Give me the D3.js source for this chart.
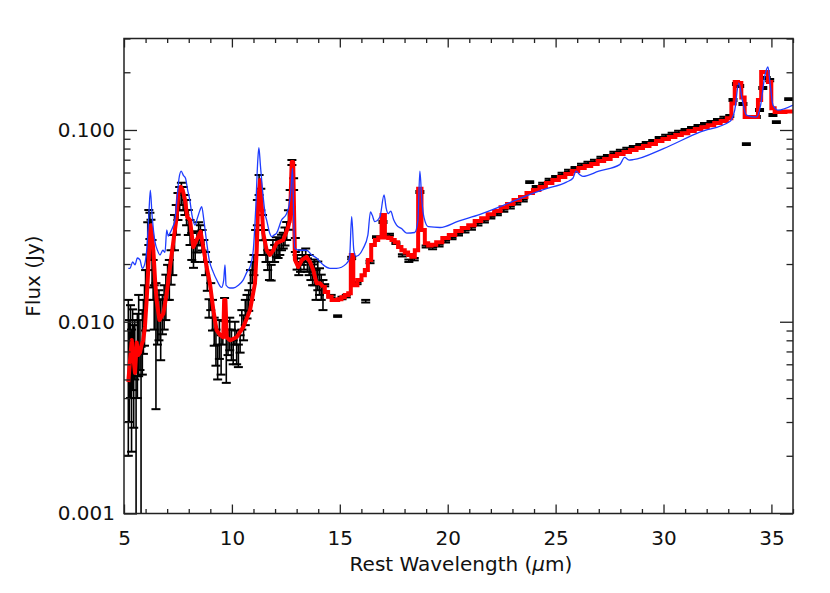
<!DOCTYPE html>
<html><head><meta charset="utf-8">
<script src="https://cdn.jsdelivr.net/npm/d3@7/dist/d3.min.js"></script>
<style>body{margin:0;background:#fff} text{font-family:"DejaVu Sans",sans-serif;fill:#111}</style>
</head><body><svg id="c" width="830" height="593"></svg>
<script>
// ---- tick labels ----
const xTicks = [5, 10, 15, 20, 25, 30, 35];
const yTicks = [0.001, 0.01, 0.1];
const yTickLabels = ["0.001", "0.010", "0.100"];

// ---- blue model (thin line) ----
const modelWl = [5.2,5.28,5.4,5.51,5.62,5.74,5.85,5.95,6.05,6.15,6.22,6.3,6.44,6.55,6.67,6.8,6.9,6.98,7.05,7.13,7.25,7.36,7.45,7.55,7.65,7.75,7.85,7.95,8.05,8.15,8.29,8.4,8.52,8.6,8.7,8.83,8.95,9.13,9.3,9.52,9.62,9.68,9.73,9.9,10.06,10.3,10.52,10.7,10.84,10.99,11.1,11.2,11.25,11.32,11.45,11.55,11.61,11.75,11.84,11.95,12.07,12.3,12.53,12.65,12.75,12.81,12.86,12.91,13.15,13.46,13.7,13.92,14.23,14.54,14.85,15.31,15.45,15.55,15.65,15.75,16.08,16.3,16.42,16.5,16.62,16.86,17.05,17.15,17.24,17.36,17.5,17.63,17.86,18.1,18.47,18.62,18.71,18.8,18.9,19.1,19.64,20.5,21.5,22.4,23.5,24.5,25.5,25.8,25.95,26.1,26.26,27.0,27.97,28.2,28.4,28.59,30.0,31.68,33.07,33.3,33.49,33.65,33.84,34.3,34.5,34.7,34.84,34.95,35.07,35.3,36.0];
const modelFlux = [0.0190,0.0190,0.0205,0.0198,0.0215,0.0210,0.0190,0.0198,0.0236,0.0360,0.0486,0.0360,0.0260,0.0236,0.0223,0.0236,0.0230,0.0301,0.0280,0.0290,0.0310,0.0339,0.0431,0.0560,0.0610,0.0580,0.0560,0.0486,0.0431,0.0360,0.0319,0.0347,0.0382,0.0398,0.0339,0.0260,0.0210,0.0182,0.0165,0.0151,0.0165,0.0198,0.0155,0.0150,0.0150,0.0155,0.0165,0.0182,0.0193,0.0236,0.0382,0.0697,0.0810,0.0656,0.0447,0.0360,0.0339,0.0290,0.0278,0.0283,0.0290,0.0339,0.0366,0.0406,0.0516,0.0633,0.0360,0.0242,0.0236,0.0236,0.0223,0.0215,0.0198,0.0190,0.0190,0.0201,0.0215,0.0353,0.0236,0.0219,0.0241,0.0283,0.0374,0.0360,0.0333,0.0353,0.0458,0.0390,0.0366,0.0377,0.0339,0.0319,0.0306,0.0290,0.0292,0.0339,0.0610,0.0431,0.0350,0.0313,0.0310,0.0335,0.0363,0.0397,0.0447,0.0491,0.0535,0.0560,0.0610,0.0587,0.0573,0.0610,0.0660,0.0719,0.0697,0.0700,0.0800,0.0975,0.1107,0.1270,0.1760,0.1430,0.1196,0.1168,0.1349,0.1930,0.2130,0.1700,0.1350,0.1270,0.1350];

// ---- red fit (thick step line) ----
const fitWl = [5.20,5.28,5.36,5.43,5.51,5.59,5.66,5.74,5.82,5.89,5.97,6.05,6.13,6.20,6.24,6.30,6.36,6.44,6.51,6.64,6.82,6.98,7.13,7.28,7.44,7.52,7.63,7.72,7.83,7.93,8.06,8.21,8.37,8.55,8.67,8.83,8.98,9.14,9.29,9.45,9.60,9.64,9.70,9.76,9.91,10.22,10.53,10.84,11.07,11.15,11.22,11.30,11.38,11.45,11.61,11.76,11.92,12.07,12.38,12.61,12.69,12.77,12.84,12.92,13.07,13.25,13.46,13.62,13.77,13.92,14.08,14.23,14.38,14.54,14.70,14.85,15.00,15.15,15.31,15.47,15.55,15.70,15.93,16.08,16.24,16.36,16.55,16.70,16.86,17.01,17.17,17.32,17.47,17.62,17.78,17.93,18.09,18.24,18.40,18.55,18.71,18.86,19.02,19.17,19.33,19.6,19.9,20.2,20.5,20.8,21.1,21.4,21.7,22.0,22.3,22.6,22.9,23.2,23.5,23.8,24.1,24.4,24.7,25.0,25.3,25.6,25.9,26.2,26.5,26.8,27.1,27.4,27.7,28.0,28.3,28.6,28.9,29.2,29.5,29.8,30.1,30.4,30.7,31.0,31.3,31.6,31.9,32.2,32.5,32.8,33.07,33.22,33.38,33.53,33.68,33.84,34.0,34.15,34.3,34.45,34.6,34.76,34.92,35.07,35.23,35.5,35.8,36.0];
const fitFlux = [0.00485,0.00632,0.00803,0.0066,0.0054,0.0078,0.0067,0.0069,0.0076,0.0080,0.0094,0.0130,0.0193,0.0290,0.0319,0.0283,0.0236,0.0165,0.0130,0.0102,0.0110,0.0141,0.0193,0.0258,0.0352,0.0467,0.0505,0.0486,0.0431,0.0352,0.0339,0.0245,0.0267,0.0295,0.0245,0.0193,0.0159,0.0115,0.00905,0.00853,0.0083,0.0130,0.0130,0.0083,0.0080,0.0083,0.0094,0.0115,0.0159,0.0236,0.0431,0.0548,0.0406,0.0290,0.0236,0.0223,0.0236,0.0257,0.0267,0.0313,0.0339,0.068,0.068,0.0210,0.0193,0.0210,0.0218,0.0205,0.0186,0.0159,0.0159,0.0152,0.0143,0.0135,0.0130,0.0130,0.0131,0.0134,0.0138,0.0141,0.0223,0.0155,0.0165,0.0175,0.0186,0.0210,0.0251,0.0267,0.0275,0.0360,0.0275,0.0273,0.0267,0.0260,0.0245,0.0236,0.0230,0.0223,0.0218,0.0236,0.0494,0.0301,0.0257,0.0250,0.0252,0.0260,0.0273,0.0283,0.0297,0.0308,0.0319,0.0335,0.0347,0.0364,0.0378,0.0396,0.0411,0.0431,0.0447,0.0469,0.0486,0.0504,0.0529,0.0548,0.0568,0.0589,0.0611,0.0633,0.0648,0.0664,0.0689,0.0705,0.0731,0.0749,0.0767,0.0786,0.0805,0.0824,0.0844,0.0875,0.0897,0.0918,0.0941,0.0963,0.0987,0.1011,0.1035,0.1060,0.1086,0.1113,0.1153,0.1376,0.1777,0.1760,0.1475,0.1168,0.1168,0.1168,0.1168,0.1432,0.2004,0.2004,0.1777,0.1300,0.1240,0.1240,0.1250,0.1250];

// ---- black data with error bars ----
const dataWl = [5.20,5.25,5.30,5.35,5.40,5.45,5.50,5.56,5.62,5.68,5.74,5.79,5.85,5.90,5.95,6.00,6.05,6.10,6.15,6.20,6.25,6.30,6.35,6.40,6.48,6.55,6.62,6.70,6.78,6.86,6.94,7.02,7.10,7.18,7.26,7.34,7.42,7.50,7.58,7.66,7.74,7.82,7.90,7.98,8.06,8.14,8.22,8.30,8.38,8.46,8.54,8.62,8.70,8.78,8.86,8.94,9.02,9.10,9.18,9.26,9.34,9.42,9.50,9.58,9.66,9.74,9.82,9.90,9.98,10.06,10.14,10.22,10.30,10.38,10.46,10.54,10.62,10.70,10.78,10.86,10.94,11.02,11.10,11.18,11.26,11.34,11.42,11.50,11.58,11.66,11.74,11.82,11.90,11.98,12.06,12.14,12.22,12.30,12.38,12.46,12.54,12.62,12.70,12.78,12.86,12.94,13.02,13.10,13.18,13.26,13.34,13.42,13.50,13.58,13.66,13.74,13.82,13.90,13.98,14.06,14.14,14.22,14.3,14.6,14.9,15.1,15.3,15.55,15.8,16.2,16.4,16.7,17.0,17.3,17.6,17.9,18.2,18.45,18.71,19.0,19.3,19.6,19.9,20.2,20.5,20.8,21.1,21.4,21.7,22.0,22.3,22.6,22.9,23.2,23.5,23.8,24.1,24.4,24.7,25.0,25.3,25.6,25.9,26.2,26.5,26.8,27.1,27.4,27.7,28.0,28.3,28.6,28.9,29.2,29.5,29.8,30.1,30.4,30.7,31.0,31.3,31.6,31.9,32.2,32.5,32.8,33.07,33.22,33.38,33.53,33.68,33.84,34.0,34.3,34.45,34.6,34.76,34.92,35.07,35.23,35.5,35.8];
const dataFlux = [0.0075,0.0066,0.0081,0.0056,0.0080,0.0062,0.0076,0.0030,0.0075,0.0095,0.0079,0.0040,0.0084,0.0099,0.0115,0.0138,0.0177,0.0258,0.0317,0.0320,0.0275,0.0209,0.0170,0.0123,0.0097,0.0103,0.0113,0.0097,0.0112,0.0123,0.0139,0.0164,0.0170,0.0196,0.0229,0.0298,0.0345,0.0404,0.0443,0.0468,0.0443,0.0409,0.0375,0.0333,0.0295,0.0250,0.0221,0.0236,0.0263,0.0290,0.0285,0.0268,0.0236,0.0203,0.0175,0.0118,0.0137,0.0110,0.0090,0.0075,0.0063,0.0083,0.0069,0.0089,0.0117,0.0074,0.0079,0.0088,0.0077,0.0070,0.0088,0.0075,0.0067,0.0077,0.0103,0.0094,0.0113,0.0121,0.0130,0.0158,0.0182,0.0199,0.0262,0.0375,0.0520,0.0438,0.0313,0.0262,0.0236,0.0211,0.0185,0.0181,0.0236,0.0228,0.0247,0.0241,0.0248,0.0260,0.0266,0.0280,0.0299,0.0342,0.0459,0.0677,0.0523,0.0252,0.0205,0.0190,0.0198,0.0217,0.0205,0.0223,0.0198,0.0199,0.0185,0.0177,0.0183,0.0158,0.0176,0.0164,0.0153,0.0140,0.0155,0.0136,0.0107,0.0133,0.0136,0.0215,0.0159,0.0128,0.0205,0.0276,0.0331,0.0285,0.0257,0.0222,0.0208,0.0212,0.0475,0.0247,0.0242,0.0250,0.0262,0.0272,0.0285,0.0296,0.0306,0.0322,0.0333,0.0349,0.0363,0.0380,0.0395,0.0414,0.0429,0.0535,0.0505,0.0524,0.0550,0.0570,0.0591,0.0613,0.0635,0.0658,0.0674,0.0691,0.0717,0.0733,0.0760,0.0779,0.0798,0.0817,0.0837,0.0857,0.0878,0.0910,0.0933,0.0955,0.0979,0.1002,0.1026,0.1051,0.1076,0.1102,0.1129,0.1158,0.1182,0.1432,0.1735,0.1694,0.1365,0.0844,0.1168,0.1168,0.1270,0.1654,0.1865,0.1820,0.1196,0.1099,0.1240,0.1449];
const dataErr = [0.0055,0.0036,0.0041,0.0035,0.0036,0.0034,0.0026,0.0022,0.0035,0.0043,0.0023,0.0034,0.0031,0.0031,0.0040,0.0048,0.0047,0.0072,0.0066,0.0050,0.0065,0.0058,0.0040,0.0032,0.0062,0.0027,0.0033,0.0034,0.0026,0.0032,0.0037,0.0034,0.0040,0.0040,0.0054,0.0062,0.0061,0.0065,0.0061,0.0062,0.0061,0.0049,0.0056,0.0050,0.0044,0.0040,0.0030,0.0031,0.0033,0.0040,0.0034,0.0033,0.0031,0.0028,0.0030,0.0013,0.0022,0.0020,0.0015,0.0016,0.0013,0.0019,0.0016,0.0013,0.0016,0.0026,0.0012,0.0017,0.0014,0.0010,0.0012,0.0015,0.0009,0.0008,0.0012,0.0014,0.0017,0.0017,0.0016,0.0028,0.0023,0.0024,0.0039,0.0056,0.0062,0.0056,0.0047,0.0039,0.0031,0.0025,0.0020,0.0017,0.0031,0.0023,0.0029,0.0026,0.0025,0.0024,0.0025,0.0030,0.0032,0.0040,0.0028,0.0020,0.0037,0.0021,0.0018,0.0015,0.0016,0.0019,0.0018,0.0018,0.0016,0.0024,0.0020,0.0022,0.0028,0.0028,0.0030,0.0026,0.0023,0.0025,0.0002,0.0002,0.0001,0.0002,0.0002,0.0003,0.0002,0.0002,0.0003,0.0003,0.0004,0.0003,0.0003,0.0003,0.0003,0.0003,0.0006,0.0003,0.0003,0.0003,0.0003,0.0003,0.0003,0.0004,0.0004,0.0004,0.0004,0.0004,0.0004,0.0005,0.0005,0.0005,0.0005,0.0006,0.0006,0.0006,0.0006,0.0006,0.0007,0.0007,0.0007,0.0008,0.0008,0.0008,0.0008,0.0008,0.0009,0.0009,0.0009,0.0009,0.0009,0.0010,0.0010,0.0010,0.0011,0.0011,0.0011,0.0011,0.0012,0.0012,0.0012,0.0013,0.0013,0.0013,0.0014,0.0017,0.0021,0.0020,0.0016,0.0010,0.0014,0.0014,0.0015,0.0020,0.0022,0.0022,0.0014,0.0013,0.0015,0.0017];

// ---- layout ----
const M = {l: 124, r: 793, t: 38.5, b: 513.5};
const x = d3.scaleLinear().domain([5, 36]).range([M.l, M.r]);
const y = d3.scaleLog().domain([0.001, 0.3]).range([M.b, M.t]);
const svg = d3.select("#c");

svg.append("clipPath").attr("id", "clip").append("rect")
  .attr("x", M.l).attr("y", M.t).attr("width", M.r - M.l).attr("height", M.b - M.t);
const plot = svg.append("g").attr("clip-path", "url(#clip)");

// black error bars (drawn first)
const data = dataWl.map((w, i) => ({w, f: dataFlux[i], e: dataErr[i]}));
const eb = plot.append("g").attr("stroke", "#000");
const cw = 4.5;
data.forEach(d => {
  const hi = d.f + d.e, lo = d.f - d.e;
  const yHi = y(hi), yLo = lo > 0.0009 ? y(lo) : M.b + 5;
  const cx = x(d.w);
  eb.append("line").attr("x1", cx).attr("x2", cx).attr("y1", yHi).attr("y2", yLo).attr("stroke-width", 1.6);
  eb.append("line").attr("x1", cx - cw).attr("x2", cx + cw).attr("y1", yHi).attr("y2", yHi).attr("stroke-width", 2);
  if (lo > 0.0009) eb.append("line").attr("x1", cx - cw).attr("x2", cx + cw).attr("y1", yLo).attr("y2", yLo).attr("stroke-width", 2);
});

// red fit
const fit = fitWl.map((w, i) => [w, fitFlux[i]]);
plot.append("path").datum(fit.filter(d => d[0] <= 14.23))
  .attr("d", d3.line().x(d => x(d[0])).y(d => y(d[1])).curve(d3.curveLinear)).attr("fill", "none")
  .attr("stroke", "#ff0000").attr("stroke-width", 4).attr("stroke-linejoin", "round");
plot.append("path").datum(fit.filter(d => d[0] >= 14.23))
  .attr("d", d3.line().x(d => x(d[0])).y(d => y(d[1])).curve(d3.curveStep)).attr("fill", "none")
  .attr("stroke", "#ff0000").attr("stroke-width", 4).attr("stroke-linejoin", "miter");

// blue model
plot.append("path").datum(modelWl.map((w, i) => [w, modelFlux[i]]))
  .attr("d", d3.line().x(d => x(d[0])).y(d => y(d[1])).curve(d3.curveMonotoneX))
  .attr("fill", "none").attr("stroke", "#1f3dff").attr("stroke-width", 1.3);

// ---- axes ----
const axisColor = "#222";
const xMinor = d3.range(5, 37, 1).filter(v => v % 5 !== 0);
const yMinor = [];
[0.001, 0.01, 0.1].forEach(dec => { for (let k = 2; k <= 9; k++) { const v = dec * k; if (v <= 0.3001) yMinor.push(v); } });

function styleAxis(g) { g.select(".domain").remove(); g.selectAll("line").attr("stroke", axisColor).attr("stroke-width", 1.3); g.selectAll("text").attr("font-size", 20).attr("fill", "#111").attr("font-family", "DejaVu Sans, sans-serif"); }

svg.append("g").attr("transform", `translate(0,${M.b})`)
  .call(d3.axisBottom(x).tickValues(xTicks).tickSize(-9).tickPadding(17).tickFormat(d3.format("d"))).call(styleAxis);
svg.append("g").attr("transform", `translate(0,${M.b})`)
  .call(d3.axisBottom(x).tickValues(xMinor).tickSize(-4.5).tickFormat("")).call(styleAxis);
svg.append("g").attr("transform", `translate(0,${M.t})`)
  .call(d3.axisTop(x).tickValues(xTicks).tickSize(-9).tickFormat("")).call(styleAxis);
svg.append("g").attr("transform", `translate(0,${M.t})`)
  .call(d3.axisTop(x).tickValues(xMinor).tickSize(-4.5).tickFormat("")).call(styleAxis);

svg.append("g").attr("transform", `translate(${M.l},0)`)
  .call(d3.axisLeft(y).tickValues(yTicks).tickSize(-13).tickPadding(9).tickFormat((d, i) => yTickLabels[i])).call(styleAxis);
svg.append("g").attr("transform", `translate(${M.l},0)`)
  .call(d3.axisLeft(y).tickValues(yMinor).tickSize(-6.5).tickFormat("")).call(styleAxis);
svg.append("g").attr("transform", `translate(${M.r},0)`)
  .call(d3.axisRight(y).tickValues(yTicks).tickSize(-13).tickFormat("")).call(styleAxis);
svg.append("g").attr("transform", `translate(${M.r},0)`)
  .call(d3.axisRight(y).tickValues(yMinor).tickSize(-6.5).tickFormat("")).call(styleAxis);

svg.append("rect").attr("x", M.l).attr("y", M.t).attr("width", M.r - M.l).attr("height", M.b - M.t)
  .attr("fill", "none").attr("stroke", axisColor).attr("stroke-width", 1.5);

// titles
const xt = svg.append("text").attr("x", 461).attr("y", 571).attr("text-anchor", "middle").attr("font-size", 20);
xt.append("tspan").text("Rest Wavelength (");
xt.append("tspan").attr("font-style", "italic").text("μ");
xt.append("tspan").text("m)");
svg.append("text").attr("transform", "translate(40,276) rotate(-90)").attr("text-anchor", "middle")
  .attr("font-size", 20).text("Flux (Jy)");
</script></body></html>
